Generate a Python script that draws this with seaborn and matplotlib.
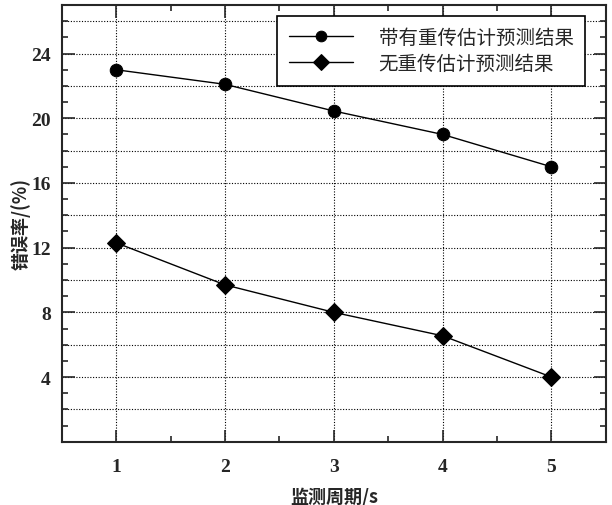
import numpy as np
import pandas as pd
import seaborn as sns
import matplotlib.pyplot as plt
from matplotlib.ticker import MultipleLocator

periods = [1, 2, 3, 4, 5]
with_retrans = [23.0, 22.1, 20.45, 19.0, 17.0]
without_retrans = [12.3, 9.7, 8.0, 6.55, 4.0]
series_names = ["带有重传估计预测结果", "无重传估计预测结果"]

df = pd.DataFrame({
    "period": periods * 2,
    "err": with_retrans + without_retrans,
    "series": [series_names[0]] * 5 + [series_names[1]] * 5,
})

sns.set_style("ticks")
plt.rcParams['font.family'] = ['Noto Sans CJK SC', 'DejaVu Sans']

fig = plt.figure(figsize=(6.12, 5.06), dpi=100)
ax = fig.add_axes([0.101, 0.125, 0.889, 0.863])

sns.lineplot(data=df, x="period", y="err", hue="series", style="series",
             palette=["black", "black"], markers=["o", "D"], dashes=False,
             markersize=9, linewidth=1, markeredgecolor="black", ax=ax)

ax.set_xlim(0.5, 5.5)
ax.set_ylim(0, 27)
ax.xaxis.set_major_locator(MultipleLocator(1))
ax.xaxis.set_minor_locator(MultipleLocator(0.5))
ax.yaxis.set_minor_locator(MultipleLocator(1))
ax.set_yticks([4, 8, 12, 16, 20, 24])

# dotted grid: vertical at x ticks, horizontal every 2
for xv in periods:
    ax.axvline(xv, color="black", linestyle=(0, (1, 1.5)), linewidth=0.8, zorder=0)
for yv in range(2, 27, 2):
    ax.axhline(yv, color="black", linestyle=(0, (1, 1.5)), linewidth=0.8, zorder=0)

ax.tick_params(which="both", direction="in", top=True, right=True, width=1.2)
ax.tick_params(which="major", length=9, labelsize=14, pad=12)
ax.tick_params(axis="y", which="major", pad=8)
ax.tick_params(which="minor", length=4)
for lab in ax.get_xticklabels() + ax.get_yticklabels():
    lab.set_family("Liberation Serif")
    lab.set_fontweight("bold")
for s in ax.spines.values():
    s.set_linewidth(1.5)

ax.set_xlabel("监测周期/s", fontsize=13, fontweight="bold", labelpad=8)
ax.set_ylabel("错误率/(%)", fontsize=13, fontweight="bold")
ax.yaxis.set_label_coords(-0.058, 0.5)

leg = ax.legend(loc="upper right", bbox_to_anchor=(0.962, 0.976), borderaxespad=0,
                fontsize=14, frameon=True, fancybox=False, edgecolor="black",
                handlelength=3.3, borderpad=0.6, labelspacing=0.25, handletextpad=1.3,
                markerscale=0.85)
leg.get_frame().set_linewidth(1.2)
leg.get_frame().set_alpha(1)

fig.savefig("out.png", dpi=100)
